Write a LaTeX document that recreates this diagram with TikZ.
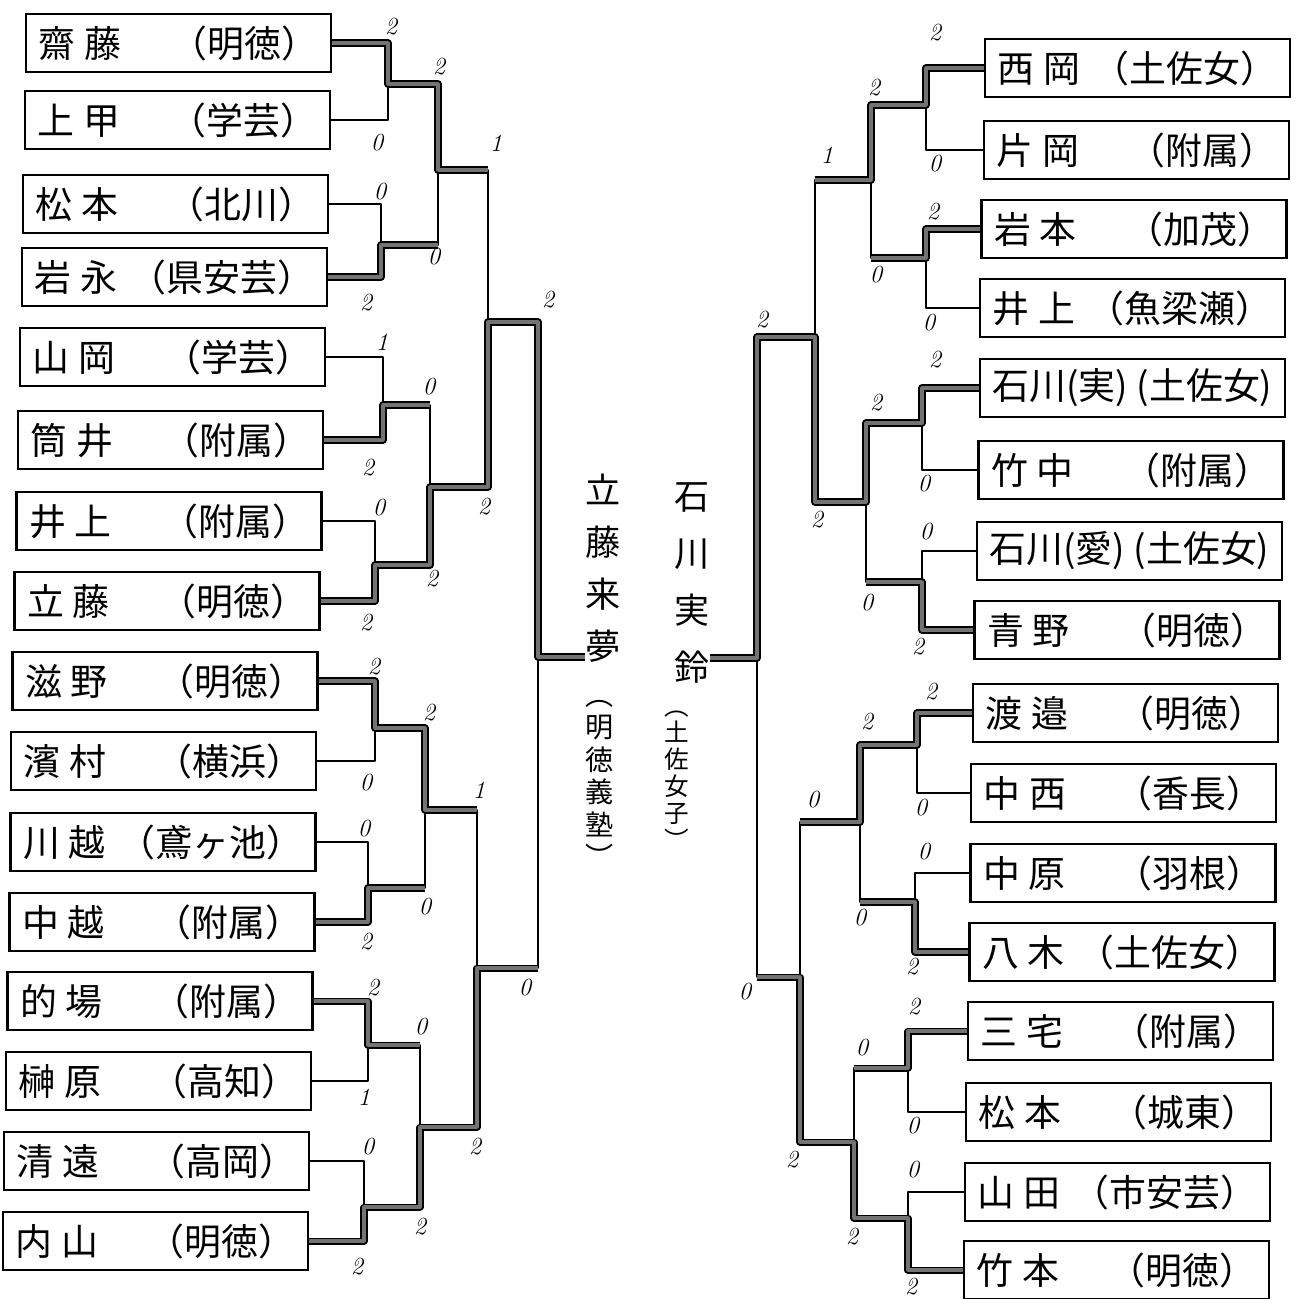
\documentclass[tikz,border=0pt]{standalone}
\usepackage{fontspec}
\newfontfamily\jpfont{Noto Sans CJK JP}
\newcommand\bxe[2]{\makebox[5.6cm]{#1\hfill#2}}
\newcommand\nm[2]{#1\kern5pt#2}
\begin{document}
\begin{tikzpicture}[x=0.02cm,y=-0.02cm,
  box/.style={draw, line width=1.3pt, minimum height=1.16cm, inner xsep=0.25cm, inner ysep=0pt,
    font=\jpfont\fontsize{21}{24}\selectfont},
  lose/.style={line width=1.1pt, line join=round},
  win/.style={line width=1.1pt, double=black!55, double distance=1.8pt, line join=round},
  sc/.style={font=\fontsize{14}{14}\selectfont\itshape, inner sep=0pt},
  vtxt/.style={align=center, inner sep=0pt}]
\fill[white] (0,0) rectangle (1299,1299);
\useasboundingbox (0,0) rectangle (1299,1299);

% ---------- left boxes ----------
\node[box] (L1)  at (178.5,43)  {\bxe{\nm{齋}{藤}}{（明徳）}};
\node[box] (L2)  at (177.5,120) {\bxe{\nm{上}{甲}}{（学芸）}};
\node[box] (L3)  at (175.5,204) {\bxe{\nm{松}{本}}{（北川）}};
\node[box] (L4)  at (174.5,277) {\bxe{\nm{岩}{永}}{（県安芸）}};
\node[box] (L5)  at (172.5,357) {\bxe{\nm{山}{岡}}{（学芸）}};
\node[box] (L6)  at (170.5,440) {\bxe{\nm{筒}{井}}{（附属）}};
\node[box] (L7)  at (169,521)   {\bxe{\nm{井}{上}}{（附属）}};
\node[box] (L8)  at (167,601)   {\bxe{\nm{立}{藤}}{（明徳）}};
\node[box] (L9)  at (165,681)   {\bxe{\nm{滋}{野}}{（明徳）}};
\node[box] (L10) at (163.5,761) {\bxe{\nm{濱}{村}}{（横浜）}};
\node[box] (L11) at (163,842)   {\bxe{\nm{川}{越}}{（鳶ヶ池）}};
\node[box] (L12) at (162,922)   {\bxe{\nm{中}{越}}{（附属）}};
\node[box] (L13) at (160,1001)  {\bxe{\nm{的}{場}}{（附属）}};
\node[box] (L14) at (158.5,1081){\bxe{\nm{榊}{原}}{（高知）}};
\node[box] (L15) at (156.5,1161){\bxe{\nm{清}{遠}}{（高岡）}};
\node[box] (L16) at (155.5,1241){\bxe{\nm{内}{山}}{（明徳）}};

% ---------- right boxes ----------
\node[box] (R1)  at (1137.5,68) {\bxe{\nm{西}{岡}}{（土佐女）}};
\node[box] (R2)  at (1136.5,150){\bxe{\nm{片}{岡}}{（附属）}};
\node[box] (R3)  at (1134,229)  {\bxe{\nm{岩}{本}}{（加茂）}};
\node[box] (R4)  at (1132.5,308){\bxe{\nm{井}{上}}{（魚梁瀬）}};
\node[box] (R5)  at (1132.5,388){\bxe{石川(実)}{(土佐女)}};
\node[box] (R6)  at (1131,470)  {\bxe{\nm{竹}{中}}{（附属）}};
\node[box] (R7)  at (1129.5,551){\bxe{石川(愛)}{(土佐女)}};
\node[box] (R8)  at (1127,630)  {\bxe{\nm{青}{野}}{（明徳）}};
\node[box] (R9)  at (1125.5,713){\bxe{\nm{渡}{邉}}{（明徳）}};
\node[box] (R10) at (1123.5,793){\bxe{\nm{中}{西}}{（香長）}};
\node[box] (R11) at (1123,873)  {\bxe{\nm{中}{原}}{（羽根）}};
\node[box] (R12) at (1122,952)  {\bxe{\nm{八}{木}}{（土佐女）}};
\node[box] (R13) at (1120.5,1031){\bxe{\nm{三}{宅}}{（附属）}};
\node[box] (R14) at (1118.5,1112){\bxe{\nm{松}{本}}{（城東）}};
\node[box] (R15) at (1117.5,1192){\bxe{\nm{山}{田}}{（市安芸）}};
\node[box] (R16) at (1116.5,1270){\bxe{\nm{竹}{本}}{（明徳）}};

% ---------- champions (vertical text) ----------
\node[vtxt, font=\jpfont\fontsize{20}{29.5}\selectfont] (nameL) at (603,568) {立\\藤\\来\\夢};
\node[vtxt, font=\jpfont\fontsize{16}{18.5}\selectfont] (schL) at (600,784) {︵\\明\\徳\\義\\塾\\︶};
\node[vtxt, font=\jpfont\fontsize{20}{32.3}\selectfont] (nameR) at (692,583) {石\\川\\実\\鈴};
\node[vtxt, font=\jpfont\fontsize{14}{15.3}\selectfont] (schR) at (677,780) {︵\\土\\佐\\女\\子\\︶};

% ---------- joints ----------
\coordinate (a1) at (388,84);  \coordinate (a2) at (381,245);
\coordinate (a3) at (383,405); \coordinate (a4) at (375,565);
\coordinate (a5) at (375,728); \coordinate (a6) at (368,888);
\coordinate (a7) at (368,1045);\coordinate (a8) at (364,1207);
\coordinate (b1) at (438,170); \coordinate (b2) at (430,487);
\coordinate (b3) at (425,810); \coordinate (b4) at (420,1127);
\coordinate (c1) at (488,322); \coordinate (c2) at (477,968);
\coordinate (fL) at (538,657);
\coordinate (ra1) at (926,105); \coordinate (ra2) at (926,258);
\coordinate (ra3) at (922,423); \coordinate (ra4) at (922,582);
\coordinate (ra5) at (917,745); \coordinate (ra6) at (915,902);
\coordinate (ra7) at (908,1068);\coordinate (ra8) at (908,1218);
\coordinate (rb1) at (871,180); \coordinate (rb2) at (866,502);
\coordinate (rb3) at (860,822); \coordinate (rb4) at (854,1142);
\coordinate (rc1) at (815,337); \coordinate (rc2) at (800,977);
\coordinate (fR) at (757,658);

% ---------- thin skeleton ----------
\foreach \n/\j in {L1/a1,L2/a1,L3/a2,L4/a2,L5/a3,L6/a3,L7/a4,L8/a4,
                   L9/a5,L10/a5,L11/a6,L12/a6,L13/a7,L14/a7,L15/a8,L16/a8}
  \draw[lose] (\n.east) -| (\j);
\foreach \n/\j in {R1/ra1,R2/ra1,R3/ra2,R4/ra2,R5/ra3,R6/ra3,R7/ra4,R8/ra4,
                   R9/ra5,R10/ra5,R11/ra6,R12/ra6,R13/ra7,R14/ra7,R15/ra8,R16/ra8}
  \draw[lose] (\n.west) -| (\j);
\foreach \p/\q in {a1/b1,a2/b1,a3/b2,a4/b2,a5/b3,a6/b3,a7/b4,a8/b4,
                   b1/c1,b2/c1,b3/c2,b4/c2,c1/fL,c2/fL,
                   ra1/rb1,ra2/rb1,ra3/rb2,ra4/rb2,ra5/rb3,ra6/rb3,ra7/rb4,ra8/rb4,
                   rb1/rc1,rb2/rc1,rb3/rc2,rb4/rc2,rc1/fR,rc2/fR}
  \draw[lose] (\p) -| (\q);

% ---------- winners (thick) ----------
\draw[win] (L1.east) -| (a1) -| (b1) -- (b1 -| c1);
\draw[win] (L4.east) -| (a2) -- (a2 -| b1);
\draw[win] (L6.east) -| (a3) -- (a3 -| b2);
\draw[win] (L8.east) -| (a4) -| (b2) -| (c1) -| (fL) -- (fL -| nameL.west);
\draw[win] (L9.east) -| (a5) -| (b3) -- (b3 -| c2);
\draw[win] (L12.east) -| (a6) -- (a6 -| b3);
\draw[win] (L13.east) -| (a7) -- (a7 -| b4);
\draw[win] (L16.east) -| (a8) -| (b4) -| (c2) -- (c2 -| fL);

\draw[win] (R1.west) -| (ra1) -| (rb1) -- (rb1 -| rc1);
\draw[win] (R3.west) -| (ra2) -- (ra2 -| rb1);
\draw[win] (R5.west) -| (ra3) -| (rb2) -| (rc1) -| (fR) -- (fR -| nameR.east);
\draw[win] (R8.west) -| (ra4) -- (ra4 -| rb2);
\draw[win] (R9.west) -| (ra5) -| (rb3) -- (rb3 -| rc2);
\draw[win] (R12.west) -| (ra6) -- (ra6 -| rb3);
\draw[win] (R13.west) -| (ra7) -- (ra7 -| rb4);
\draw[win] (R16.west) -| (ra8) -| (rb4) -| (rc2) -- (rc2 -| fR);

% ---------- scores ----------
\foreach \x/\y/\t [count=\i] in {391/27/2, 377/143/0, 439/67/2, 380/192/0, 434/257/0, 366/303/2, 496/143/1, 548/300/2,
  382/342/1, 429/387/0, 368/468/2, 379/508/0, 366/623/2, 432/579/2, 484/507/2,
  374/667/2, 429/713/2, 366/783/0, 364/829/0, 425/907/0, 366/942/2, 479/790/1,
  373/988/2, 421/1027/0, 364/1097/1, 368/1147/0, 420/1227/2, 357/1267/2, 475/1147/2, 525/988/0}
  \node[sc] (sl\i) at (\x,\y) {\t};
\foreach \x/\y/\t [count=\i] in {935/33/2, 874/88/2, 935/164/0, 827/155/1, 933/212/2, 876/275/0, 929/323/0, 762/320/2,
  935/360/2, 876/403/2, 924/484/0, 817/520/2, 926/532/0, 867/603/0, 918/647/2,
  931/692/2, 867/722/2, 921/808/0, 813/800/0, 924/852/0, 860/918/0, 912/967/2,
  745/992/0, 914/1007/2, 862/1048/0, 913/1126/0, 792/1160/2, 913/1170/0, 852/1237/2, 911/1287/2}
  \node[sc] (sr\i) at (\x,\y) {\t};
\end{tikzpicture}
\end{document}
